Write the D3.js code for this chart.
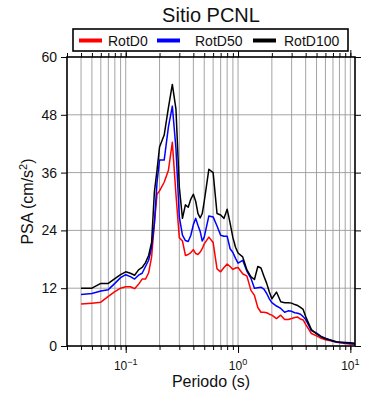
<!DOCTYPE html>
<html>
<head>
<meta charset="utf-8">
<script src="https://cdn.jsdelivr.net/npm/d3@7"></script>
<style>
  body { margin: 0; background: #fff; }
  svg { display: block; font-family: "Liberation Sans", Arial, sans-serif; }
</style>
</head>
<body>
<div id="chart"></div>
<script>
// periodos (s)
const periods = [0.04, 0.05, 0.06, 0.07, 0.08, 0.09, 0.10, 0.11, 0.12, 0.13, 0.14, 0.15, 0.16, 0.17, 0.18, 0.19,
  0.20, 0.22, 0.24, 0.26, 0.28, 0.30, 0.32, 0.34, 0.36, 0.38, 0.40, 0.42, 0.44, 0.46, 0.48, 0.50,
  0.55, 0.60, 0.65, 0.70, 0.75, 0.80, 0.85, 0.90, 0.95, 1.0, 1.1, 1.2, 1.3, 1.4, 1.5, 1.6, 1.7, 1.8, 1.9,
  2.0, 2.2, 2.4, 2.6, 2.8, 3.0, 3.2, 3.4, 3.6, 3.8, 4.0, 4.5, 5.0, 5.5, 6.0, 6.5, 7.0, 7.5, 8.0, 9.0, 10, 11]

const rotD0 = [8.7, 8.9, 9.1, 10.3, 11.3, 12.0, 12.3, 12.3, 11.9, 12.8, 13.9, 13.9, 15.2, 18.5, 25.5, 31.5,
  32.2, 34.0, 36.5, 42.3, 31.5, 22.5, 21.8, 18.8, 19.0, 19.4, 20.0, 19.2, 19.0, 19.5, 20.2, 21.2,
  22.6, 21.5, 16.0, 15.4, 16.3, 17.0, 16.5, 15.9, 16.2, 16.3, 15.0, 14.5, 11.6, 10.5, 8.0, 7.0, 7.0, 6.9, 6.6,
  6.4, 5.7, 6.4, 5.5, 5.5, 5.7, 5.9, 6.0, 5.6, 5.4, 4.5, 2.6, 2.1, 1.6, 1.3, 1.15, 1.0, 0.8, 0.7, 0.5, 0.4, 0.35]

const rotD50 = [10.7, 10.9, 11.4, 11.7, 13.0, 14.2, 14.8, 14.4, 13.9, 14.7, 15.1, 16.5, 17.8, 20.5, 25.5, 34.0,
  38.6, 38.6, 45.5, 49.8, 41.0, 26.8, 23.0, 21.9, 21.7, 23.0, 25.2, 26.5, 25.0, 23.8, 21.8, 22.6,
  27.0, 26.8, 24.9, 23.0, 22.8, 22.8, 20.2, 19.4, 18.2, 17.2, 17.8, 15.5, 14.1, 12.0, 12.1, 12.2, 11.8, 10.9, 9.8,
  9.0, 8.3, 7.8, 7.0, 7.3, 7.2, 6.9, 6.8, 6.6, 6.1, 5.5, 3.2, 2.7, 2.0, 1.6, 1.3, 1.0, 0.85, 0.75, 0.6, 0.5, 0.4]

const rotD100 = [12.0, 12.0, 13.0, 13.0, 14.0, 14.8, 15.4, 15.1, 14.7, 15.8, 16.3, 17.3, 18.8, 21.5, 32.0, 36.5,
  41.3, 43.8, 49.5, 54.3, 49.2, 33.0, 26.5, 29.3, 28.8, 30.5, 31.5, 30.0, 27.5, 26.6, 27.5, 30.0,
  36.7, 36.0, 27.5, 27.2, 26.5, 28.4, 25.5, 22.5, 20.5, 19.3, 18.5, 15.8, 14.4, 13.8, 16.5, 16.2, 14.5, 13.0, 11.2,
  9.8, 11.2, 9.2, 9.0, 9.0, 8.9, 8.6, 8.4, 8.0, 7.6, 6.1, 3.4, 2.5, 1.9, 1.5, 1.3, 1.1, 0.9, 0.85, 0.75, 0.65, 0.55]

const seriesNames = ['RotD0', 'RotD50', 'RotD100']
const seriesColors = ['#ff0000', '#0000ff', '#000000']
const yTicks = [0, 12, 24, 36, 48, 60]
const xMajor = [0.1, 1, 10]

const width = 390
const height = 400
const margin = { left: 67, right: 35, top: 57, bottom: 54 }

const svg = d3.select('#chart').append('svg')
  .attr('width', width)
  .attr('height', height)

const x = d3.scaleLog().domain([0.03, 11]).range([margin.left, width - margin.right])
const y = d3.scaleLinear().domain([0, 60]).range([height - margin.bottom, margin.top])

// minor ticks de la escala log
const xMinor = []
for (let d = 0.01; d <= 10; d *= 10) {
  for (let k = 1; k <= 9; k++) {
    const v = +(d * k).toPrecision(3)
    if (v >= 0.03 && v <= 11) xMinor.push(v)
  }
}

// rejilla
const grid = svg.append('g').attr('stroke', '#9a9a9a').attr('stroke-width', 0.9)
grid.selectAll('.vx')
  .data(xMinor.filter(v => v > 0.03 && v < 11))
  .join('line')
  .attr('x1', d => x(d)).attr('x2', d => x(d))
  .attr('y1', y(0)).attr('y2', y(60))
grid.selectAll('.hy')
  .data(yTicks.slice(1, -1))
  .join('line')
  .attr('x1', x.range()[0]).attr('x2', x.range()[1])
  .attr('y1', d => y(d)).attr('y2', d => y(d))

// curvas
const line = d3.line()
  .x(d => x(d[0]))
  .y(d => y(d[1]))

const allSeries = [rotD0, rotD50, rotD100]
allSeries.forEach((s, i) => {
  svg.append('path')
    .datum(periods.map((p, j) => [p, s[j]]))
    .attr('fill', 'none')
    .attr('stroke', seriesColors[i])
    .attr('stroke-width', 1.5)
    .attr('stroke-linejoin', 'round')
    .attr('d', line)
})

// ejes
const axisStyle = g => {
  g.select('.domain').remove()
  g.selectAll('.tick line').attr('stroke', '#000').attr('stroke-width', 1)
  g.selectAll('.tick text').remove()
}
svg.append('g').attr('transform', `translate(0,${y(0)})`)
  .call(d3.axisBottom(x).tickValues(xMinor).tickSize(4)).call(axisStyle)
svg.append('g').attr('transform', `translate(0,${y(0)})`)
  .call(d3.axisBottom(x).tickValues(xMajor).tickSize(7)).call(axisStyle)
svg.append('g').attr('transform', `translate(0,${y(60)})`)
  .call(d3.axisTop(x).tickValues(xMinor).tickSize(4)).call(axisStyle)
svg.append('g').attr('transform', `translate(0,${y(60)})`)
  .call(d3.axisTop(x).tickValues(xMajor).tickSize(7)).call(axisStyle)
svg.append('g').attr('transform', `translate(${x.range()[0]},0)`)
  .call(d3.axisLeft(y).tickValues(yTicks).tickSize(6)).call(axisStyle)
svg.append('g').attr('transform', `translate(${x.range()[1]},0)`)
  .call(d3.axisRight(y).tickValues(yTicks).tickSize(6)).call(axisStyle)

svg.append('rect')
  .attr('x', x.range()[0]).attr('y', y(60))
  .attr('width', x.range()[1] - x.range()[0])
  .attr('height', y(0) - y(60))
  .attr('fill', 'none')
  .attr('stroke', '#000')
  .attr('stroke-width', 1.6)

// etiquetas y
svg.append('g').selectAll('text')
  .data(yTicks)
  .join('text')
  .attr('x', x.range()[0] - 10)
  .attr('y', d => y(d))
  .attr('dy', '0.35em')
  .attr('text-anchor', 'end')
  .attr('font-size', 14)
  .attr('fill', '#111')
  .text(d => d)

// etiquetas x (potencias de 10)
const xl = svg.append('g').selectAll('text')
  .data(xMajor)
  .join('text')
  .attr('x', d => x(d))
  .attr('y', y(0) + 24)
  .attr('text-anchor', 'middle')
  .attr('font-size', 12)
  .attr('fill', '#111')
xl.append('tspan').text('10')
xl.append('tspan')
  .attr('dy', -5)
  .attr('font-size', 9)
  .text(d => d === 1 ? '0' : d < 1 ? '\u22121' : '1')

// titulos de ejes
svg.append('text')
  .attr('x', (x.range()[0] + x.range()[1]) / 2)
  .attr('y', 387)
  .attr('text-anchor', 'middle')
  .attr('font-size', 16)
  .attr('fill', '#111')
  .text('Periodo (s)')

const yt = svg.append('text')
  .attr('transform', `translate(33,${(y(0) + y(60)) / 2}) rotate(-90)`)
  .attr('text-anchor', 'middle')
  .attr('font-size', 16)
  .attr('fill', '#111')
yt.append('tspan').text('PSA (cm/s')
yt.append('tspan').attr('dy', -6).attr('font-size', 11).text('2')
yt.append('tspan').attr('dy', 6).text(')')

// titulo
svg.append('text')
  .attr('x', 211)
  .attr('y', 22)
  .attr('text-anchor', 'middle')
  .attr('font-size', 20)
  .attr('fill', '#111')
  .text('Sitio PCNL')

// leyenda
const legend = svg.append('g')
legend.append('rect')
  .attr('x', 73).attr('y', 29)
  .attr('width', 275).attr('height', 22)
  .attr('fill', '#fff')
  .attr('stroke', '#000')
  .attr('stroke-width', 1.6)
const legX = [79, 157, 253]
const legTextX = [108, 195, 284]
seriesNames.forEach((n, i) => {
  legend.append('line')
    .attr('x1', legX[i]).attr('x2', legX[i] + 23)
    .attr('y1', 40.5).attr('y2', 40.5)
    .attr('stroke', seriesColors[i])
    .attr('stroke-width', 4)
  legend.append('text')
    .attr('x', legTextX[i])
    .attr('y', 45.5)
    .attr('font-size', 14)
    .attr('fill', '#111')
    .text(n)
})
</script>
</body>
</html>
